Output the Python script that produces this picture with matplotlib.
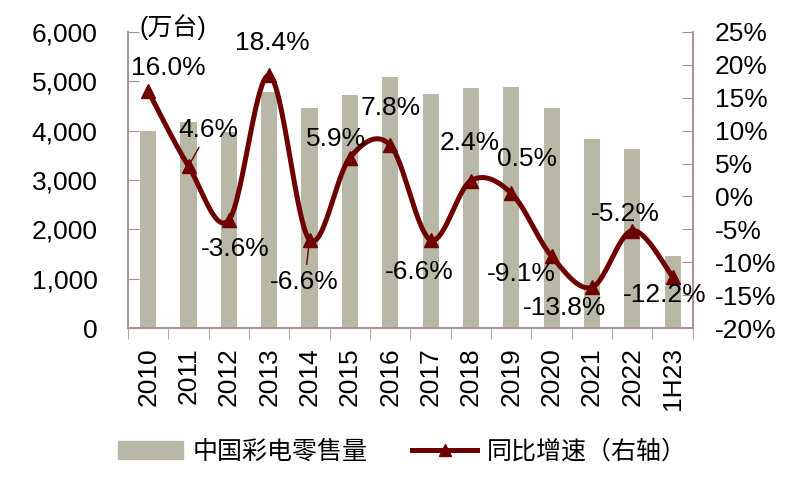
import numpy as np
import matplotlib
matplotlib.use("Agg")
import matplotlib.pyplot as plt
from matplotlib.ticker import FuncFormatter, FixedLocator
from matplotlib.lines import Line2D
from matplotlib.patches import Patch

plt.rcParams['font.family'] = ['Liberation Sans', 'Noto Sans CJK SC', 'DejaVu Sans']

categories = ['2010', '2011', '2012', '2013', '2014', '2015', '2016', '2017',
              '2018', '2019', '2020', '2021', '2022', '1H23']
sales = [4000, 4180, 3970, 4780, 4460, 4720, 5090, 4740, 4870, 4890, 4460, 3830, 3630, 1460]
growth = [16.0, 4.6, -3.6, 18.4, -6.6, 5.9, 7.8, -6.6, 2.4, 0.5, -9.1, -13.8, -5.2, -12.2]
growth_labels = ['16.0%', '4.6%', '-3.6%', '18.4%', '-6.6%', '5.9%', '7.8%', '-6.6%',
                 '2.4%', '0.5%', '-9.1%', '-13.8%', '-5.2%', '-12.2%']
# label offsets in pixels (dx, dy)
label_off = [(20, 23), (20, 36), (6, -29), (3, 32), (-5, -42), (-14, 19), (0, 37),
             (-11, -32), (-1, 38), (16, 34), (-30, -18), (-27, -21), (-7, 17), (-8, -18)]

bar_color = '#B9B8A6'
line_color = '#6E0000'
spine_color = '#A89090'
FS = 19

fig = plt.figure(figsize=(8, 4.9), dpi=100)
ax = fig.add_axes([0.16, 0.3306, 0.706, 0.6041])
ax2 = ax.twinx()

x = np.arange(len(categories))
ax.bar(x, sales, width=0.4, color=bar_color, zorder=2)
ax.set_xlim(-0.5, len(categories) - 0.5)
ax.set_ylim(0, 6000)
ax2.set_ylim(-20, 25)
ax.set_yticks(np.arange(0, 6001, 1000))
ax2.set_yticks(np.arange(-20, 26, 5))
ax.yaxis.set_major_formatter(FuncFormatter(lambda v, p: f'{int(v):,}'))
ax2.yaxis.set_major_formatter(FuncFormatter(lambda v, p: f'{int(v)}%'))

ax.set_xticks(x)
ax.set_xticklabels(categories, rotation=90, fontsize=FS)
ax.xaxis.set_minor_locator(FixedLocator(np.arange(-0.5, len(categories), 1)))
ax.tick_params(axis='x', which='major', length=0, pad=14)
ax.tick_params(axis='x', which='minor', length=8, color=spine_color, direction='out')
ax.tick_params(axis='y', direction='in', length=8, color=spine_color, pad=22, labelsize=FS)
ax2.tick_params(axis='y', direction='in', length=8, color=spine_color, pad=16, labelsize=FS)

for a in (ax, ax2):
    a.spines['top'].set_visible(False)
    for s in ('left', 'right', 'bottom'):
        a.spines[s].set_color(spine_color)
        a.spines[s].set_linewidth(1.2)

# smoothed line (Catmull-Rom in display space, like Excel smoothing)
pts = ax2.transData.transform(np.column_stack([x, growth]))
P = np.vstack([pts[0], pts, pts[-1]])
curve = []
for i in range(1, len(P) - 2):
    p0, p1, p2, p3 = P[i - 1], P[i], P[i + 1], P[i + 2]
    c1 = p1 + (p2 - p0) / 6.0
    c2 = p2 - (p3 - p1) / 6.0
    t = np.linspace(0, 1, 30)[:, None]
    seg = (1 - t) ** 3 * p1 + 3 * (1 - t) ** 2 * t * c1 + 3 * (1 - t) * t ** 2 * c2 + t ** 3 * p2
    curve.append(seg if i == 1 else seg[1:])
curve = np.vstack(curve)
curve_d = ax2.transData.inverted().transform(curve)
ax2.plot(curve_d[:, 0], curve_d[:, 1], color=line_color, lw=3.6, zorder=3, solid_capstyle='round')
ax2.plot(x, growth, linestyle='none', marker='^', markersize=10, color=line_color, zorder=4)

for i, (lab, off) in enumerate(zip(growth_labels, label_off)):
    kw = {}
    if i in (1, 4):
        kw['arrowprops'] = dict(arrowstyle='-', color=line_color, lw=1, shrinkA=2, shrinkB=4)
    ax2.annotate(lab, xy=(x[i], growth[i]), xytext=off, textcoords='offset pixels',
                 ha='center', va='center', fontsize=FS, color='black', zorder=5, **kw)

fig.text(173 / 800, 1 - 27 / 490, '(万台)', ha='center', va='center', fontsize=18)

handles = [Patch(color=bar_color), Line2D([], [], color=line_color, lw=3.6, marker='^', markersize=8)]
fig.legend(handles, ['中国彩电零售量', '同比增速（右轴）'], loc='center', bbox_to_anchor=(0.503, 0.078),
           ncol=2, frameon=False, fontsize=18, handlelength=2.6, columnspacing=1.8, handletextpad=0.36)

fig.savefig('out.png', dpi=100)
